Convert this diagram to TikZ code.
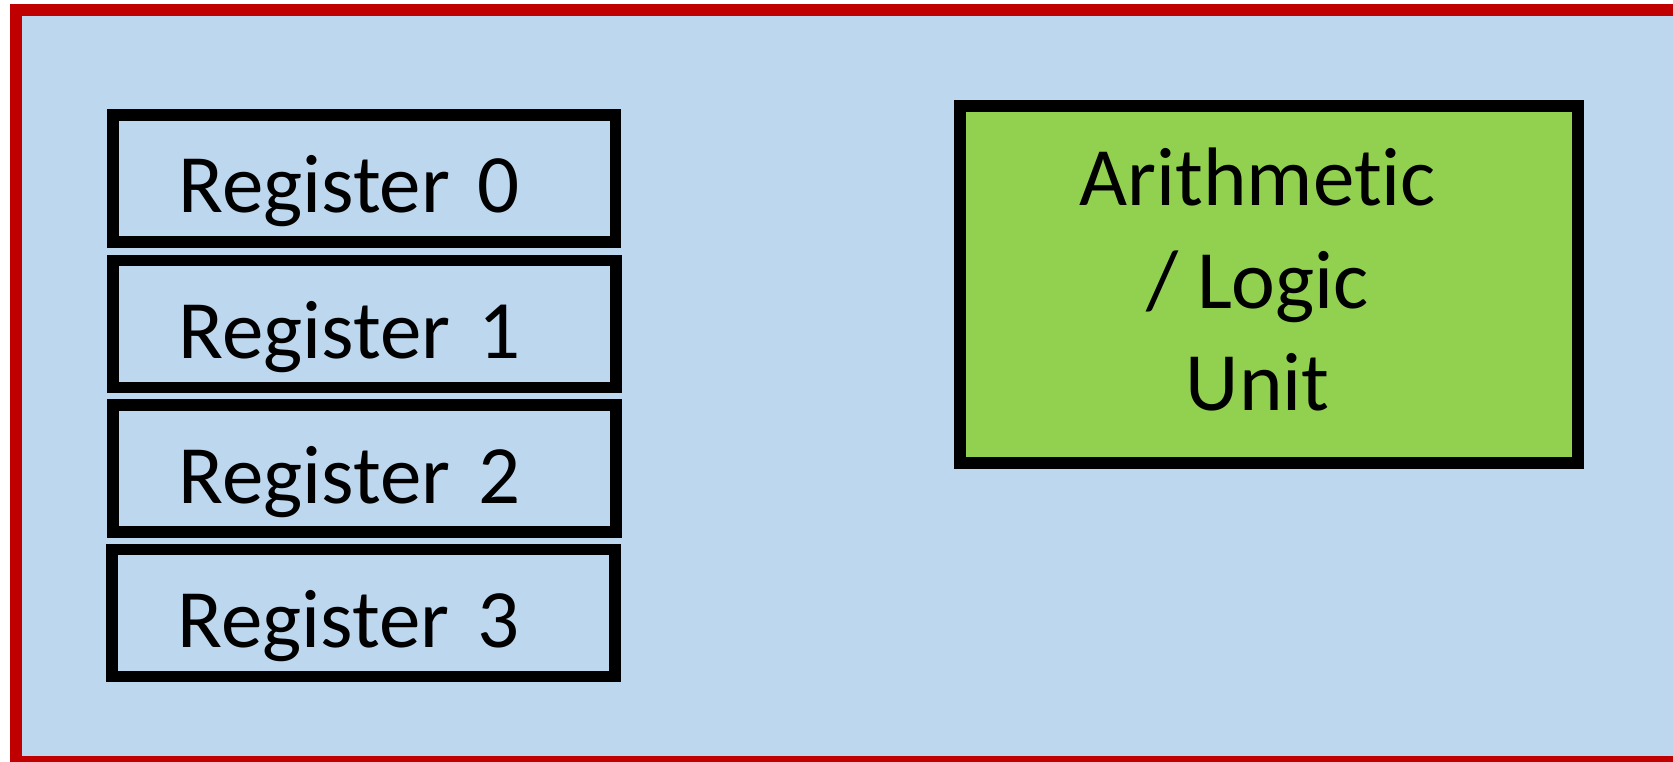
\documentclass[tikz,border=0pt]{standalone}
\usepackage{fontspec}
\setmainfont{Carlito}[Ligatures=NoCommon]
\definecolor{panelblue}{HTML}{BDD7EE}
\definecolor{framered}{HTML}{C00000}
\definecolor{alugreen}{HTML}{92D050}
\tikzset{
  regbox/.style={draw=black, line width=11.5pt, minimum width=502.6pt, minimum height=127pt,
    text width=371.6pt, align=left, inner xsep=65.5pt, inner ysep=0pt,
    text height=80pt, text depth=11pt,
    font=\fontsize{83}{102}\selectfont},
  alubox/.style={draw=black, fill=alugreen, line width=12pt, minimum width=617.8pt,
    minimum height=357.3pt, inner sep=0pt},
  alutext/.style={align=center, inner sep=0pt, font=\fontsize{83}{102.5}\selectfont}
}
\begin{document}
\begin{tikzpicture}[x=1pt, y=-1pt]
  \clip (0,0) rectangle (1673,761);
  % processor panel with red frame (cut off at the right and bottom)
  \draw[framered, fill=panelblue, line width=12pt] (16,10) rectangle (1700,762);
  % register file
  \node[regbox] (r0) at (364.2,178.4) {Register 0};
  \node[regbox] (r1) at (364.5,324)   {Register 1};
  \node[regbox] (r2) at (364.5,468.5) {Register 2};
  \node[regbox] (r3) at (363.5,612.8) {Register 3};
  % arithmetic / logic unit
  \node[alubox] (alu) at (1269.1,284.7) {};
  \node[alutext] (alulabel) at ([xshift=-11.5pt, yshift=5pt]alu.center) {Arithmetic\\/ Logic\\Unit};
\end{tikzpicture}
\end{document}
